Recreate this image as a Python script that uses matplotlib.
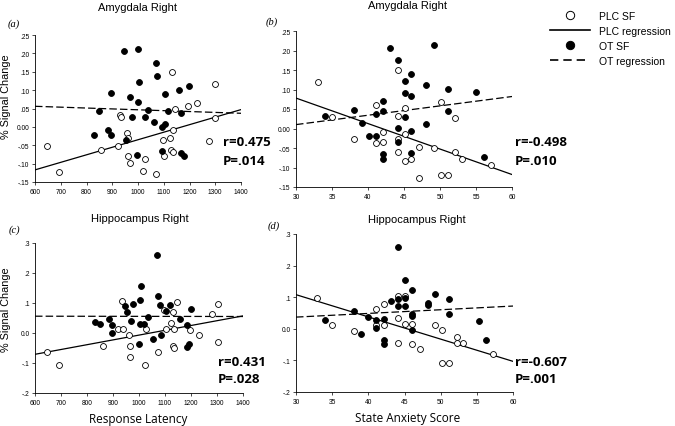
import numpy as np
import matplotlib
matplotlib.use('Agg')
import matplotlib.pyplot as plt
from matplotlib.lines import Line2D
from matplotlib.ticker import FixedLocator, FuncFormatter

plt.rcParams['font.family'] = 'Liberation Sans'

W, H = 675, 427

############ data
# (a) amygdala right vs response latency
a_ot_x = [946, 1001, 1069, 1073, 1004, 897, 969, 1001, 1106, 1159, 1199, 849, 1037, 1117,
          1168, 976, 1028, 1062, 1092, 1106, 831, 882, 895, 953, 997, 1094, 1168, 1178]
a_ot_y = [0.206, 0.213, 0.175, 0.138, 0.122, 0.093, 0.082, 0.068, 0.090, 0.101, 0.110, 0.044, 0.045, 0.043,
          0.038, 0.027, 0.027, 0.013, -0.001, 0.009, -0.021, -0.009, -0.021, -0.036, -0.076, -0.065, -0.070, -0.080]
a_plc_x = [647, 692, 856, 921, 931, 935, 959, 960, 962, 967, 1021, 1026, 1069, 1097, 1100,
           1123, 1128, 1135, 1136, 1131, 1145, 1195, 1228, 1277, 1299, 1299]
a_plc_y = [-0.052, -0.123, -0.062, -0.053, 0.032, 0.026, -0.016, -0.029, -0.079, -0.098, -0.120, -0.087, -0.129, -0.036, -0.080,
           -0.030, -0.062, -0.069, -0.009, 0.149, 0.050, 0.056, 0.064, -0.038, 0.116, 0.025]
a_fit_x = [600, 1400]
a_plc_fit = [-0.117, 0.047]
a_ot_fit = [0.056, 0.037]

# (b) amygdala right vs state anxiety
b_ot_x = [43.1, 49.1, 44.1, 46.0, 45.1, 48.1, 51.1, 45.1, 46.0, 55.0, 42.1, 38.0, 41.1, 42.1,
          51.1, 45.1, 39.2, 48.1, 44.1, 46.0, 40.1, 41.1, 44.1, 42.1, 42.1, 46.0, 56.1, 34.0]
b_ot_y = [0.207, 0.214, 0.176, 0.140, 0.123, 0.111, 0.101, 0.091, 0.083, 0.094, 0.070, 0.048, 0.038, 0.045,
          0.045, 0.030, 0.015, 0.012, 0.002, -0.007, -0.018, -0.018, -0.035, -0.066, -0.077, -0.063, -0.074, 0.031]
b_plc_x = [33.0, 35.0, 38.0, 41.1, 41.1, 42.1, 42.1, 44.1, 45.1, 44.1, 44.1, 44.1, 45.1, 45.1,
           46.0, 47.1, 47.1, 49.1, 50.1, 50.1, 51.1, 52.1, 52.1, 53.1, 57.1]
b_plc_y = [0.118, 0.029, -0.026, 0.060, -0.037, -0.008, -0.035, 0.151, 0.053, 0.033, -0.028, -0.059, -0.014, -0.084,
           -0.078, -0.048, -0.126, -0.050, 0.067, -0.120, -0.120, 0.028, -0.060, -0.077, -0.094]
b_fit_x = [30, 60]
b_plc_fit = [0.078, -0.118]
b_ot_fit = [0.010, 0.082]

# (c) hippocampus right vs response latency
c_ot_x = [1071, 1006, 1074, 1003, 1082, 1120, 1104, 945, 978, 955, 1200, 1036, 1158, 831,
          850, 885, 897, 970, 1002, 1021, 1183, 896, 1084, 1001, 1054, 1183, 1193]
c_ot_y = [0.259, 0.157, 0.123, 0.110, 0.092, 0.092, 0.072, 0.090, 0.097, 0.070, 0.081, 0.054, 0.048, 0.037,
          0.029, 0.046, 0.026, 0.040, 0.031, 0.030, 0.028, 0.001, -0.006, -0.036, -0.019, -0.047, -0.037]
c_plc_x = [647, 691, 860, 936, 919, 938, 960, 965, 967, 1027, 1022, 1073, 1098, 1104,
           1123, 1129, 1129, 1136, 1136, 1148, 1198, 1231, 1279, 1302, 1302]
c_plc_y = [-0.063, -0.108, -0.043, 0.106, 0.012, 0.012, -0.008, -0.044, -0.079, 0.014, -0.108, -0.063, 0.078, 0.014,
           0.034, 0.070, -0.043, 0.014, -0.049, 0.102, 0.011, -0.006, 0.062, 0.098, -0.029]
c_fit_x = [600, 1400]
c_plc_fit = [-0.071, 0.057]
c_ot_fit = [0.056, 0.055]

# (d) hippocampus right vs state anxiety
d_ot_x = [44.1, 45.1, 46.1, 49.2, 43.1, 44.1, 45.1, 44.1, 45.1, 48.2, 48.2, 51.2, 51.2, 46.1,
          46.1, 38.0, 40.0, 41.1, 42.1, 41.1, 39.0, 46.1, 42.1, 42.1, 55.3, 56.3, 34.0]
d_ot_y = [0.258, 0.156, 0.124, 0.109, 0.089, 0.095, 0.098, 0.071, 0.072, 0.081, 0.074, 0.093, 0.047, 0.047,
          0.040, 0.055, 0.036, 0.029, 0.032, 0.002, -0.018, -0.005, -0.037, -0.048, 0.026, -0.035, 0.028]
d_plc_x = [32.9, 35.0, 38.0, 41.1, 41.1, 42.1, 42.1, 44.1, 45.1, 44.1, 45.1, 46.1, 44.1, 46.1,
           47.1, 49.2, 50.2, 50.2, 51.2, 52.2, 52.2, 53.1, 57.2]
d_plc_y = [0.098, 0.013, -0.007, 0.063, 0.013, 0.013, 0.077, 0.105, 0.105, 0.035, 0.015, 0.015, -0.044, -0.048,
           -0.063, 0.013, -0.005, -0.107, -0.107, -0.027, -0.044, -0.044, -0.079]
d_fit_x = [30, 60]
d_plc_fit = [0.108, -0.103]
d_ot_fit = [0.037, 0.072]

stats = {'a': ('r=0.475', 'P=.014'), 'b': ('r=-0.498', 'P=.010'),
         'c': ('r=0.431', 'P=.028'), 'd': ('r=-0.607', 'P=.001')}

yt_amy = [-0.15, -0.10, -0.05, 0.0, 0.05, 0.10, 0.15, 0.20, 0.25]
yt_hip = [-0.2, -0.1, 0.0, 0.1, 0.2, 0.3]
xt_lat = [600, 700, 800, 900, 1000, 1100, 1200, 1300, 1400]
xt_anx = [30, 35, 40, 45, 50, 55, 60]

############ plot
fig = plt.figure(figsize=(W / 100, H / 100), dpi=100)

def box(l, t, r, b):
    return [l / W, 1 - b / H, (r - l) / W, (b - t) / H]

def fmt(nd):
    def f(v, pos):
        if abs(v) < 1e-9:
            return '0.' + '0' * nd
        return ('%.*f' % (nd, v)).replace('0.', '.', 1)
    return FuncFormatter(f)

dash = (0, (6, 2.5))

def panel(rect, ox, oy, px_, py_, fx, fplc, fot, xt, yt, nd):
    ax = fig.add_axes(rect)
    ax.plot(fx, fplc, color='black', lw=0.9, zorder=2)
    ax.plot(fx, fot, color='black', lw=0.9, ls=dash, zorder=2)
    ax.scatter(px_, py_, s=18, facecolor='white', edgecolor='black', lw=0.6, zorder=3, clip_on=False)
    ax.scatter(ox, oy, s=18, facecolor='black', edgecolor='black', lw=0.6, zorder=4, clip_on=False)
    ax.set_xlim(xt[0], xt[-1])
    ax.set_ylim(yt[0], yt[-1])
    ax.xaxis.set_major_locator(FixedLocator(xt))
    ax.yaxis.set_major_locator(FixedLocator(yt))
    ax.yaxis.set_major_formatter(fmt(nd))
    for s in ['top', 'right']:
        ax.spines[s].set_visible(False)
    for s in ['left', 'bottom']:
        ax.spines[s].set_linewidth(0.6)
    ax.tick_params(direction='out', length=2, width=0.5, labelsize=4.8, pad=2)
    return ax

ax_a = panel(box(35, 36, 241, 183), a_ot_x, a_ot_y, a_plc_x, a_plc_y,
             a_fit_x, a_plc_fit, a_ot_fit, xt_lat, yt_amy, 2)
ax_b = panel(box(296, 32, 512, 188), b_ot_x, b_ot_y, b_plc_x, b_plc_y,
             b_fit_x, b_plc_fit, b_ot_fit, xt_anx, yt_amy, 2)
ax_c = panel(box(35, 244, 243, 394), c_ot_x, c_ot_y, c_plc_x, c_plc_y,
             c_fit_x, c_plc_fit, c_ot_fit, xt_lat, yt_hip, 1)
ax_d = panel(box(296, 235, 513, 393), d_ot_x, d_ot_y, d_plc_x, d_plc_y,
             d_fit_x, d_plc_fit, d_ot_fit, xt_anx, yt_hip, 1)

def ftext(x, y, s, **kw):
    fig.text(x / W, 1 - y / H, s, **kw)

# titles
ftext(138, 8, 'Amygdala Right', fontsize=8, ha='center', va='center')
ftext(408, 6, 'Amygdala Right', fontsize=8, ha='center', va='center')
ftext(140, 219, 'Hippocampus Right', fontsize=8, ha='center', va='center')
ftext(417, 220, 'Hippocampus Right', fontsize=8, ha='center', va='center')

# panel letters
for x, y, s in [(14, 24, '(a)'), (272, 22, '(b)'), (14, 230, '(c)'), (274, 226, '(d)')]:
    ftext(x, y, s, fontsize=7.5, family='Liberation Serif', style='italic', ha='center', va='center')

# axis labels
ftext(6, 97, '% Signal Change', fontsize=7.8, rotation=90, ha='center', va='center')
ftext(6, 310, '% Signal Change', fontsize=7.8, rotation=90, ha='center', va='center')
ftext(138, 420, 'Response Latency', fontsize=8.5, family='Open Sans', ha='center', va='center')
ftext(408, 419, 'State Anxiety Score', fontsize=8.5, family='Open Sans', ha='center', va='center')

# correlation annotations
for key, (x, y1, y2) in {'a': (223, 143, 162), 'b': (515, 143, 162),
                         'c': (218, 362, 380), 'd': (515, 362, 380)}.items():
    r_s, p_s = stats[key]
    ftext(x, y1, r_s, fontsize=9.5, family='Open Sans', weight='bold', ha='left', va='center')
    ftext(x, y2, p_s, fontsize=9.5, family='Open Sans', weight='bold', ha='left', va='center')

# legend
handles = [
    Line2D([], [], ls='none', marker='o', ms=6, mfc='white', mec='black', mew=0.7),
    Line2D([], [], color='black', lw=1.2),
    Line2D([], [], ls='none', marker='o', ms=6, mfc='black', mec='black', mew=0.7),
    Line2D([], [], color='black', lw=1.2, ls=(0, (5, 3))),
]
labels = ['PLC SF', 'PLC regression', 'OT SF', 'OT regression']
fig.legend(handles, labels, loc='upper left', bbox_to_anchor=(550 / W, 1 - 12 / H),
           frameon=False, fontsize=7.5, handlelength=3.8, handletextpad=0.9,
           labelspacing=0.48, borderpad=0, borderaxespad=0)

plt.savefig('out.png', dpi=100, facecolor='w')
